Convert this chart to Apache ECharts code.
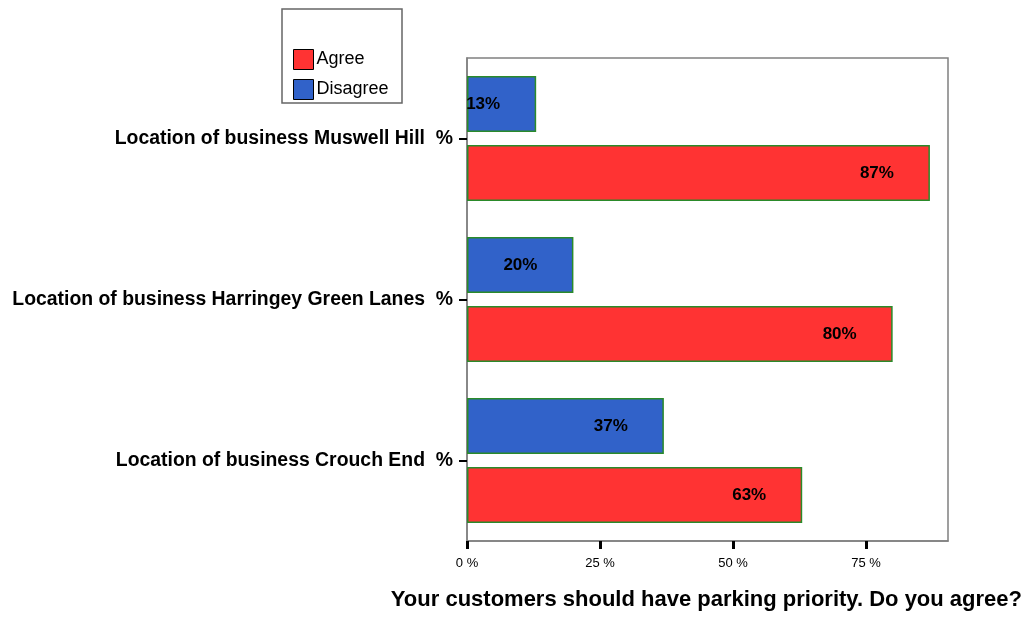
<!DOCTYPE html>
<html>
<head>
<meta charset="utf-8">
<script src="https://cdn.jsdelivr.net/npm/echarts@6/dist/echarts.min.js"></script>
<style>html,body{margin:0;padding:0;background:#fff}#c{width:1026px;height:617px}</style>
</head>
<body>
<div id="c"></div>
<script>
const categories = ['Location of business Crouch End  %', 'Location of business Harringey Green Lanes  %', 'Location of business Muswell Hill  %'];
const seriesNames = ['Agree', 'Disagree'];
const agree = [63, 80, 87];
const disagree = [37, 20, 13];
const xTicks = [0, 25, 50, 75];
const axisTitle = 'Your customers should have parking priority. Do you agree?';

const FONT = "'Liberation Sans', Arial, sans-serif";
const chart = echarts.init(document.getElementById('c'), null, {renderer: 'canvas'});
const labelCfg = {
  show: true, position: 'insideRight', distance: 36,
  formatter: '{c}%', color: '#000', fontWeight: 'bold', fontSize: 17, fontFamily: FONT
};
chart.setOption({
  backgroundColor: '#fff',
  animation: false,
  title: {
    text: axisTitle, right: 4, top: 589, padding: 0,
    textStyle: {fontSize: 22, fontWeight: 'bold', color: '#000', fontFamily: FONT}
  },
  graphic: [{
    type: 'rect', shape: {x: 282, y: 9, width: 120, height: 94},
    style: {fill: 'none', stroke: '#666', lineWidth: 1.5}
  }],
  legend: {
    data: seriesNames, orient: 'vertical', left: 293, top: 49, padding: 0,
    itemWidth: 20, itemHeight: 20, itemGap: 9, icon: 'rect',
    itemStyle: {borderColor: '#000', borderWidth: 1},
    textStyle: {fontSize: 18, color: '#000', fontFamily: FONT, padding: [3, 0, 0, -2]}
  },
  grid: {left: 467, right: 78, top: 58, bottom: 76, show: true, borderColor: '#808080', borderWidth: 1.5, containLabel: false},
  xAxis: {
    type: 'value', min: 0, max: 90.4, interval: 25,
    axisLine: {show: true, lineStyle: {color: '#808080', width: 1.5}},
    axisTick: {show: true, customValues: xTicks, length: 8, lineStyle: {color: '#000', width: 3}},
    axisLabel: {customValues: xTicks, formatter: '{value} %', margin: 16, fontSize: 13, color: '#000', fontFamily: FONT},
    splitLine: {show: false}
  },
  yAxis: {
    type: 'category', data: categories,
    axisLine: {show: true, lineStyle: {color: '#808080', width: 1.5}},
    axisTick: {show: true, alignWithLabel: true, length: 8, lineStyle: {color: '#000', width: 2}},
    axisLabel: {margin: 14, fontSize: 19.4, fontWeight: 'bold', color: '#000', fontFamily: FONT, padding: [3, 0, 0, 0]}
  },
  series: [
    {name: seriesNames[1], type: 'bar', data: disagree, barWidth: 56, barGap: '23%',
     itemStyle: {color: '#3162c9', borderColor: '#2a8a2a', borderWidth: 1.5}, label: labelCfg},
    {name: seriesNames[0], type: 'bar', data: agree, barWidth: 56, barGap: '23%',
     itemStyle: {color: '#ff3333', borderColor: '#2a8a2a', borderWidth: 1.5}, label: labelCfg}
  ]
});
</script>
</body>
</html>
